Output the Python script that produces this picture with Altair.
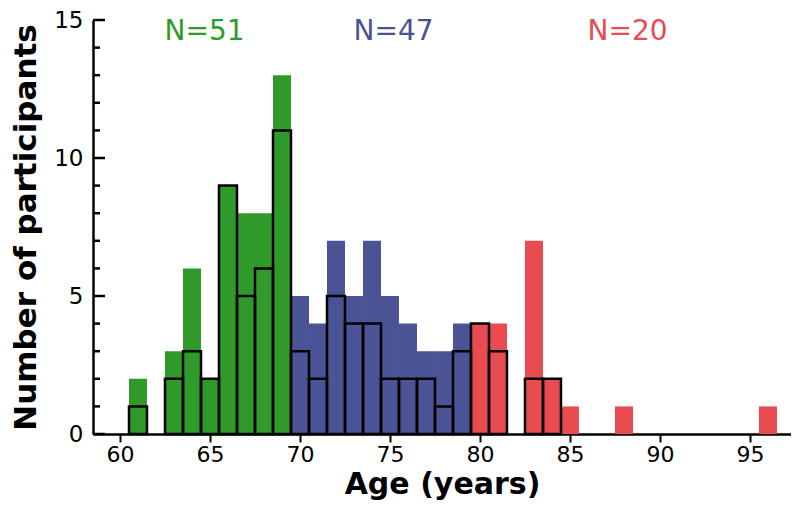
import altair as alt
import pandas as pd

# ---- data ----
groups = ["green", "blue", "red"]
colors = ["#2f9a2a", "#4a5396", "#e84b50"]

ages_green = [61, 63, 64, 65, 66, 67, 68, 69]
total_green = [2, 3, 6, 2, 9, 8, 8, 13]
outlined_green = [1, 2, 3, 2, 9, 5, 6, 11]

ages_blue = [70, 71, 72, 73, 74, 75, 76, 77, 78, 79]
total_blue = [5, 4, 7, 5, 7, 5, 4, 3, 3, 4]
outlined_blue = [3, 2, 5, 4, 4, 2, 2, 2, 1, 3]

ages_red = [80, 81, 83, 84, 85, 88, 96]
total_red = [4, 4, 7, 2, 1, 1, 1]
outlined_red = [4, 3, 2, 2, 0, 0, 0]

n_labels = ["N=51", "N=47", "N=20"]
n_label_x = [64.7, 75.2, 88.2]
n_label_y = [14.55, 14.55, 14.55]

x_ticks = [60, 65, 70, 75, 80, 85, 90, 95]
y_major = [0, 5, 10, 15]
y_minor = [1, 2, 3, 4, 6, 7, 8, 9, 11, 12, 13, 14]

FONT = "DejaVu Sans"

rows = []
for g, ages, tot, out in [("green", ages_green, total_green, outlined_green),
                          ("blue", ages_blue, total_blue, outlined_blue),
                          ("red", ages_red, total_red, outlined_red)]:
    for a, t, o in zip(ages, tot, out):
        rows.append({"group": g, "age": a, "total": t, "outlined": o})
df = pd.DataFrame(rows)

lab_df = pd.DataFrame({"group": groups, "label": n_labels, "x": n_label_x, "y": n_label_y})
major_df = pd.DataFrame({"v": y_major})
minor_df = pd.DataFrame({"v": y_minor})

x_scale = alt.Scale(domain=[58.5, 97.28], nice=False, zero=False)
y_scale = alt.Scale(domain=[0, 15], nice=False)
color_scale = alt.Scale(domain=groups, range=colors)

x_axis = alt.Axis(values=x_ticks, title="Age (years)", tickSize=8, tickWidth=2,
                  labelFontSize=22, labelPadding=2, titleFontSize=30, titleFontWeight="bold",
                  titlePadding=4, labelFont=FONT, titleFont=FONT)
y_axis = alt.Axis(values=y_major, title="Number of participants", ticks=False,
                  labelFontSize=23, labelPadding=10, titleFontSize=31, titleFontWeight="bold",
                  labelFont=FONT, titleFont=FONT, titleX=-67, titleY=207,
                  titleAlign="center", titleBaseline="middle")

base = alt.Chart(df).transform_calculate(x0="datum.age - 0.5", x1="datum.age + 0.5")

fill_bars = base.mark_bar(strokeWidth=0).encode(
    x=alt.X("x0:Q", scale=x_scale, axis=x_axis),
    x2="x1:Q",
    y=alt.Y("total:Q", scale=y_scale, axis=y_axis, stack=None),
    y2=alt.datum(0),
    color=alt.Color("group:N", scale=color_scale, legend=None),
)

outline_bars = base.transform_filter("datum.outlined > 0").mark_bar(
    fillOpacity=0, stroke="black", strokeWidth=2.5, strokeJoin="miter"
).encode(
    x=alt.X("x0:Q", scale=x_scale, axis=x_axis),
    x2="x1:Q",
    y=alt.Y("outlined:Q", scale=y_scale, stack=None, axis=y_axis),
    y2=alt.datum(0),
)

major_ticks = alt.Chart(major_df).mark_rule(color="black", strokeWidth=2.5).encode(
    y=alt.Y("v:Q", scale=y_scale, axis=y_axis), x=alt.value(0), x2=alt.value(12)
)
minor_ticks = alt.Chart(minor_df).mark_rule(color="black", strokeWidth=2.5).encode(
    y=alt.Y("v:Q", scale=y_scale, axis=y_axis), x=alt.value(0), x2=alt.value(7)
)

labels = alt.Chart(lab_df).mark_text(fontSize=28, font=FONT, baseline="middle").encode(
    x=alt.X("x:Q", scale=x_scale, axis=x_axis),
    y=alt.Y("y:Q", scale=y_scale, axis=y_axis),
    text="label:N",
    color=alt.Color("group:N", scale=color_scale, legend=None),
)

chart = alt.layer(fill_bars, outline_bars, major_ticks, minor_ticks, labels).properties(
    width=698, height=414, autosize="none",
    padding={"left": 85, "top": 12, "right": 0, "bottom": 73},
    background="white",
).configure_axis(
    domainColor="black", domainWidth=2.5, labelColor="black", titleColor="black",
    tickColor="black", grid=False,
).configure_view(stroke=None)

chart.save("out.html", embed_options={"renderer": "svg", "actions": False})
